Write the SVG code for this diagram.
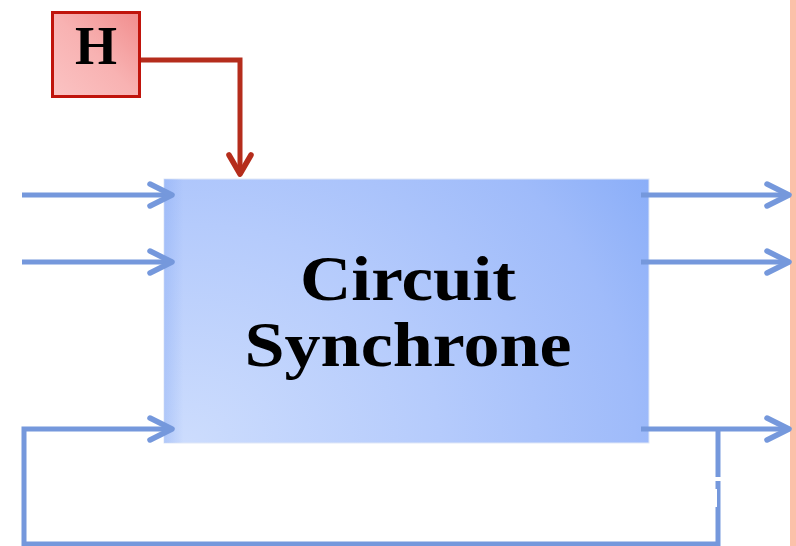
<svg xmlns="http://www.w3.org/2000/svg" width="796" height="546" viewBox="0 0 796 546">
  <style>
    .blue { fill: none; stroke: #7598dc; stroke-width: 5; }
    .head { fill: none; stroke: #7598dc; stroke-width: 5.5; stroke-linecap: round; stroke-linejoin: round; }
    .red { fill: none; stroke: #b52d1c; stroke-width: 5; }
    .redhead { fill: none; stroke: #b52d1c; stroke-width: 5.5; stroke-linecap: round; stroke-linejoin: round; }
    .lbl { font-family: "Liberation Serif", "DejaVu Serif", serif; font-weight: bold; fill: #000; text-anchor: middle; }
  </style>
  <defs>
    <radialGradient id="gBox" cx="0.05" cy="1" r="1.15" gradientTransform="translate(0.05,1) scale(1,1.6) translate(-0.05,-1)">
      <stop offset="0" stop-color="#ccdcfd"/>
      <stop offset="0.45" stop-color="#b5cbfc"/>
      <stop offset="0.8" stop-color="#9fbbfa"/>
      <stop offset="1" stop-color="#89adf8"/>
    </radialGradient>
    <linearGradient id="gEdge" x1="0" y1="0" x2="1" y2="0">
      <stop offset="0" stop-color="#7fa4f2" stop-opacity="0.35"/>
      <stop offset="0.04" stop-color="#7fa4f2" stop-opacity="0"/>
    </linearGradient>
    <linearGradient id="gH" x1="0" y1="1" x2="1" y2="0">
      <stop offset="0" stop-color="#fbc3c3"/>
      <stop offset="0.5" stop-color="#f8b2b2"/>
      <stop offset="1" stop-color="#f18d8d"/>
    </linearGradient>
  </defs>
  <rect x="0" y="0" width="796" height="546" fill="#ffffff"/>
  <rect x="790" y="0" width="6" height="546" fill="#fbc1a9"/>

  <g id="circuit">
    <rect x="164" y="179" width="485" height="264" fill="url(#gBox)" stroke="#dfe7f7" stroke-width="1"/>
    <rect x="164" y="179" width="485" height="264" fill="url(#gEdge)"/>
    <text class="lbl" x="408" y="300" font-size="64" textLength="216" lengthAdjust="spacingAndGlyphs">Circuit</text>
    <text class="lbl" x="408" y="366" font-size="64" textLength="327" lengthAdjust="spacingAndGlyphs">Synchrone</text>
  </g>

  <g id="horloge">
    <rect x="52.5" y="12.5" width="87" height="84" fill="url(#gH)" stroke="#c0140c" stroke-width="3"/>
    <text class="lbl" x="96" y="64" font-size="54">H</text>
  </g>

  <g id="connectors">
    <polyline class="red" points="141,60 240,60 240,173"/>
    <polyline class="redhead" points="229,155 240,174 251,155"/>

    <line class="blue" x1="22" y1="195" x2="172" y2="195"/>
    <polyline class="head" points="150,184 172,195 150,206"/>
    <line class="blue" x1="22" y1="262" x2="172" y2="262"/>
    <polyline class="head" points="150,251 172,262 150,273"/>
    <polyline class="blue" points="172,429 24,429 24,544 720,544"/>
    <polyline class="head" points="150,418 172,429 150,440"/>

    <line class="blue" x1="641" y1="195" x2="789" y2="195"/>
    <polyline class="head" points="767,184 789,195 767,206"/>
    <line class="blue" x1="641" y1="262" x2="789" y2="262"/>
    <polyline class="head" points="767,251 789,262 767,273"/>
    <line class="blue" x1="641" y1="429" x2="789" y2="429"/>
    <polyline class="head" points="767,418 789,429 767,440"/>
    <line class="blue" x1="718" y1="429" x2="718" y2="546"/>
    <rect x="714" y="477" width="8" height="4" fill="#ffffff"/>
    <rect x="714" y="489" width="3" height="18" fill="#ffffff"/>
  </g>
</svg>
